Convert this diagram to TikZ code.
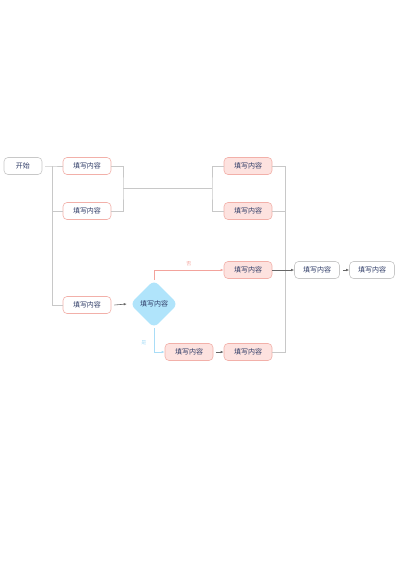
\documentclass[tikz,border=0pt]{standalone}
\usepackage{fontspec}
\setmainfont{Noto Sans CJK SC}
\usetikzlibrary{shapes.geometric,arrows.meta}
\definecolor{txt}{HTML}{2E3B66}
\definecolor{pinkline}{HTML}{F2B0A9}
\definecolor{pinkfill}{HTML}{FDE2DF}
\definecolor{grayline}{HTML}{C8C8C8}
\definecolor{bluefill}{HTML}{B0E4FB}
\definecolor{blueline}{HTML}{A9DDF7}
\definecolor{redline}{HTML}{F3A39C}
\tikzset{
  box/.style={draw, rounded corners=4pt, minimum width=48pt, minimum height=17pt,
    inner sep=0pt, font=\fontsize{7}{8}\selectfont, text=txt, line width=0.6pt},
  plainbox/.style={box, draw=pinkline, fill=white},
  pinkbox/.style={box, draw=pinkline, fill=pinkfill},
  graybox/.style={box, draw=grayline, fill=white},
  decision/.style={diamond, fill=bluefill, rounded corners=6pt, minimum width=48pt,
    minimum height=48pt, inner sep=0pt, aspect=1, font=\fontsize{7}{8}\selectfont, text=txt},
  link/.style={draw=grayline, line width=0.6pt},
  arr/.style={link, -{Latex[length=3pt,width=2.5pt]}, draw=gray!80!black},
  lab/.style={font=\fontsize{5}{5}\selectfont}
}
\begin{document}
\begin{tikzpicture}[x=1pt,y=-1pt]
        \useasboundingbox (0,0) rectangle (400,566);

        \node[graybox, minimum width=38pt] (start) at (23,166) {开始};

        \node[plainbox] (a1) at (87,166) {填写内容};
        \node[plainbox] (a2) at (87,211) {填写内容};
        \node[plainbox] (d) at (87,305) {填写内容};

        \node[pinkbox] (b1) at (248,166) {填写内容};
        \node[pinkbox] (b2) at (248,211) {填写内容};
        \node[pinkbox] (c1) at (248,270) {填写内容};

        \node[decision] (q) at (154,304) {填写内容};

        \node[pinkbox] (e1) at (189,352) {填写内容};
        \node[pinkbox] (e2) at (248,352) {填写内容};

        \node[graybox, minimum width=45pt] (f1) at (317,270) {填写内容};
        \node[graybox, minimum width=45pt] (f2) at (372,270) {填写内容};

        % split after start
        \coordinate (s1) at (52,166);
        \coordinate (s2) at (52,305);
        \draw[link] ([xshift=3pt]start.east) -- (s1) -- (a1.west);
        \draw[link] (s1) -- (s2) -- (d.west);
        \draw[link] (52,211) -- (a2.west);

        % merge and split in the middle
        \coordinate (m1) at (123,188);
        \coordinate (m2) at (212,188);
        \draw[link] (a1.east) -| (m1) |- (a2.east);
        \draw[link] (m1) -- (m2);
        \draw[link] (b1.west) -| (m2) |- (b2.west);

        % merge on the right
        \coordinate (r1) at (285,270);
        \draw[link] (b1.east) -| (r1);
        \draw[link] (b2.east) -| (285,211);
        \draw[link] (e2.east) -| (r1);
        \draw[arr] (c1.east) -- (f1.west);
        \draw[arr] ([xshift=3pt]f1.east) -- (f2.west);

        % decision
        \draw[arr] ([xshift=3pt]d.east) -- ([xshift=-3pt]q.west);
        \draw[link, draw=redline, -{Latex[length=3pt,width=2.5pt]}] (q.north) |- (c1.west)
            node[lab, text=redline, pos=0.75, above] {否};
        \draw[link, draw=blueline, -{Latex[length=3pt,width=2.5pt]}] (q.south) |- (e1.west)
            node[lab, text=blueline, pos=0.3, left, xshift=-4pt] {是};
        \draw[arr] ([xshift=3pt]e1.east) -- (e2.west);
    \end{tikzpicture}
\end{document}
